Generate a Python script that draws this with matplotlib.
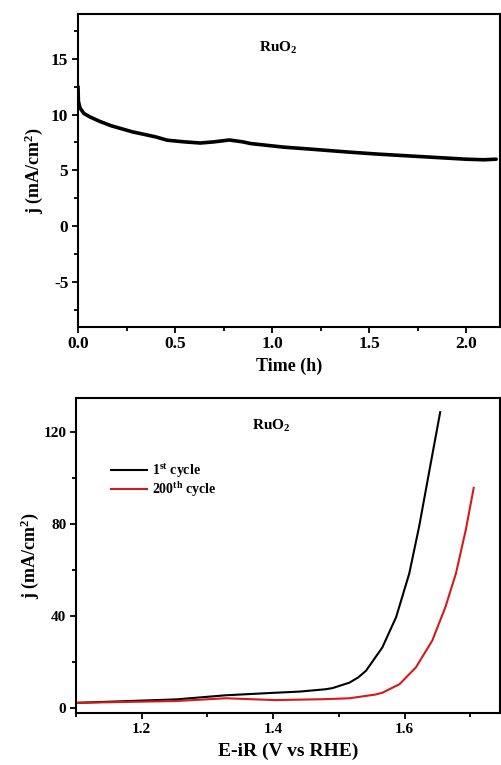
import matplotlib
matplotlib.use("Agg")
import matplotlib.pyplot as plt
from matplotlib.ticker import MultipleLocator, FormatStrFormatter

plt.rcParams['font.family'] = ['Liberation Serif', 'DejaVu Serif']
plt.rcParams['font.weight'] = 'bold'
plt.rcParams['axes.unicode_minus'] = False
plt.rcParams['mathtext.fontset'] = 'custom'
plt.rcParams['mathtext.rm'] = 'Liberation Serif:bold'
plt.rcParams['mathtext.it'] = 'Liberation Serif:bold'
plt.rcParams['mathtext.bf'] = 'Liberation Serif:bold'

# --- Top panel: chronoamperometry ---
time_h = [0.0, 0.002, 0.01, 0.03, 0.06, 0.11, 0.17, 0.28, 0.40, 0.46, 0.55, 0.63, 0.70, 0.78,
          0.85, 0.89, 1.06, 1.20, 1.40, 1.55, 1.75, 1.90, 2.00, 2.09, 2.155]
j_time = [12.5, 11.2, 10.6, 10.1, 9.8, 9.4, 9.0, 8.45, 8.0, 7.7, 7.55, 7.45, 7.55, 7.72,
          7.55, 7.4, 7.08, 6.9, 6.63, 6.45, 6.25, 6.1, 6.0, 5.95, 6.0]

# --- Bottom panel: polarization curves ---
E_1st = [1.10, 1.252, 1.328, 1.403, 1.440, 1.479, 1.490, 1.516, 1.529, 1.541, 1.566, 1.587,
         1.607, 1.622, 1.637, 1.654]
j_1st = [2.4, 3.9, 5.7, 6.8, 7.3, 8.3, 8.8, 11.2, 13.4, 16.3, 26.5, 39.7,
         58.7, 79.1, 102.5, 128.8]
E_200 = [1.10, 1.252, 1.328, 1.403, 1.440, 1.479, 1.516, 1.555, 1.566, 1.592, 1.617, 1.642,
         1.662, 1.678, 1.693, 1.705]
j_200 = [2.4, 3.2, 4.4, 3.6, 3.8, 4.0, 4.4, 6.0, 6.8, 10.5, 17.8, 29.5,
         44.1, 58.7, 77.7, 95.9]

fig = plt.figure(figsize=(5.01, 7.65), dpi=100)
ax1 = fig.add_axes([0.1557, 0.5729, 0.8423, 0.4088])
ax2 = fig.add_axes([0.1517, 0.0680, 0.8463, 0.4118])

ax1.plot(time_h, j_time, color='black', lw=2.6, solid_capstyle='round', solid_joinstyle='round')
ax1.set_xlim(0, 2.175)
ax1.set_ylim(-9, 19)
ax1.xaxis.set_major_locator(MultipleLocator(0.5))
ax1.xaxis.set_minor_locator(MultipleLocator(0.25))
ax1.yaxis.set_major_locator(MultipleLocator(5))
ax1.yaxis.set_minor_locator(MultipleLocator(2.5))
ax1.xaxis.set_major_formatter(FormatStrFormatter('%.1f'))
ax1.set_xlabel('Time (h)', fontsize=13, fontweight='bold', labelpad=4)
ax1.set_ylabel('j (mA/cm$^2$)', fontsize=13, fontweight='bold', labelpad=4)
ax1.text(1.03, 16.0, 'RuO$_2$', fontsize=11, fontweight='bold', ha='center', va='center')

ax2.plot(E_1st, j_1st, color='black', lw=1.5, label='1$^{st}$ cycle', solid_joinstyle='round')
ax2.plot(E_200, j_200, color='#d7191c', lw=1.5, label='200$^{th}$ cycle', solid_joinstyle='round')
ax2.set_xlim(1.1, 1.745)
ax2.set_ylim(-2, 135)
ax2.xaxis.set_major_locator(MultipleLocator(0.2))
ax2.xaxis.set_minor_locator(MultipleLocator(0.1))
ax2.yaxis.set_major_locator(MultipleLocator(40))
ax2.yaxis.set_minor_locator(MultipleLocator(20))
ax2.xaxis.set_major_formatter(FormatStrFormatter('%.1f'))
ax2.set_xlabel('E-iR (V vs RHE)', fontsize=14, fontweight='bold', labelpad=5)
ax2.set_ylabel('j (mA/cm$^2$)', fontsize=13, fontweight='bold', labelpad=2)
ax2.text(1.397, 122.8, 'RuO$_2$', fontsize=11, fontweight='bold', ha='center', va='center')
leg = ax2.legend(loc='upper left', bbox_to_anchor=(0.07, 0.815), frameon=False,
                 fontsize=10, handlelength=2.6, handletextpad=0.3, labelspacing=0.0,
                 borderaxespad=0)

for ax, fs in ((ax1, 12.5), (ax2, 11)):
    for s in ax.spines.values():
        s.set_linewidth(1.5)
    ax.tick_params(which='both', direction='out', top=False, right=False, width=1.3)
    ax.tick_params(which='major', length=4, labelsize=fs, pad=3)
    ax.tick_params(which='minor', length=3)
    for lab in ax.get_xticklabels() + ax.get_yticklabels():
        lab.set_fontweight('bold')

fig.savefig('out.png', dpi=100)
